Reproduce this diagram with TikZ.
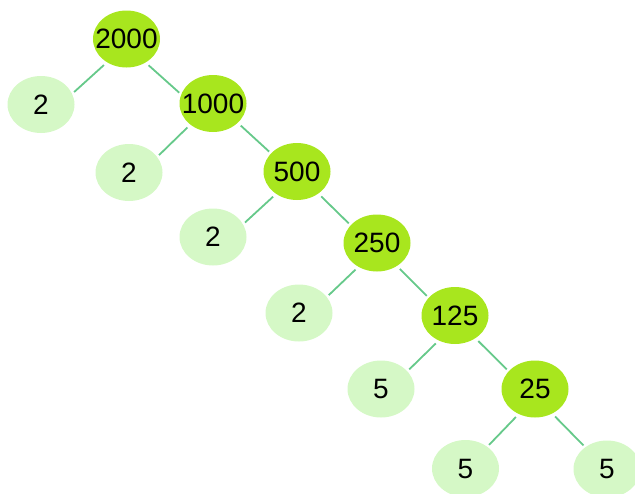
\documentclass[tikz,border=0pt]{standalone}
\usepackage{fontspec}
\setmainfont{Liberation Sans}
\usepackage{tikz}
\definecolor{factorGreen}{HTML}{A8E61E}
\definecolor{primeGreen}{HTML}{D5F8C6}
\definecolor{edgeGreen}{HTML}{66C98A}
\usetikzlibrary{shapes.geometric}

\tikzset{
  blob/.style={ellipse, minimum width=67pt, minimum height=57pt, inner sep=0pt,
    font=\fontsize{28}{30}\selectfont,
    execute at begin node=\hbox to 0pt\bgroup\hss,
    execute at end node=\hss\egroup},
  factor/.style={blob, fill=factorGreen},
  prime/.style={blob, fill=primeGreen},
  branch/.style={edgeGreen, line width=1.8pt, shorten <=4pt, shorten >=2.5pt}
}

\begin{document}
\begin{tikzpicture}[x=1pt, y=-1pt]
  \useasboundingbox (0,0) rectangle (635,493);

  \node[factor] (n2000) at (126.5,39) {2000};
  \node[factor] (n1000) at (213,103.5) {1000};
  \node[factor] (n500) at (297,171.5) {500};
  \node[factor] (n250) at (377,243) {250};
  \node[factor] (n125) at (455,315.5) {125};
  \node[factor] (n25) at (535,389) {25};

  \node[prime] (p1) at (41,104.5) {2};
  \node[prime] (p2) at (129,172.5) {2};
  \node[prime] (p3) at (213,237) {2};
  \node[prime] (p4) at (299,313) {2};
  \node[prime] (p5) at (381,389) {5};
  \node[prime] (p6) at (465.5,468.5) {5};
  \node[prime] (p7) at (607,469) {5};

  % left branches end on the prime, right ones go on down
  \draw[branch] (n2000.230) -- (p1.19);
  \draw[branch] (n2000.309) -- (n1000.164);
  \draw[branch] (n1000.223) -- (p2.29);
  \draw[branch] (n1000.322) -- (n500.145);
  \draw[branch] (n500.227) -- (p3.23);
  \draw[branch] (n500.314) -- (n250.146);
  \draw[branch] (n250.232) -- (p4.30);
  \draw[branch] (n250.311) -- (n125.146);
  \draw[branch] (n125.237) -- (p5.34);
  \draw[branch] (n125.312) -- (n25.146);
  \draw[branch] (n25.237) -- (p6.45);
  \draw[branch] (n25.305) -- (p7.135);
\end{tikzpicture}
\end{document}
